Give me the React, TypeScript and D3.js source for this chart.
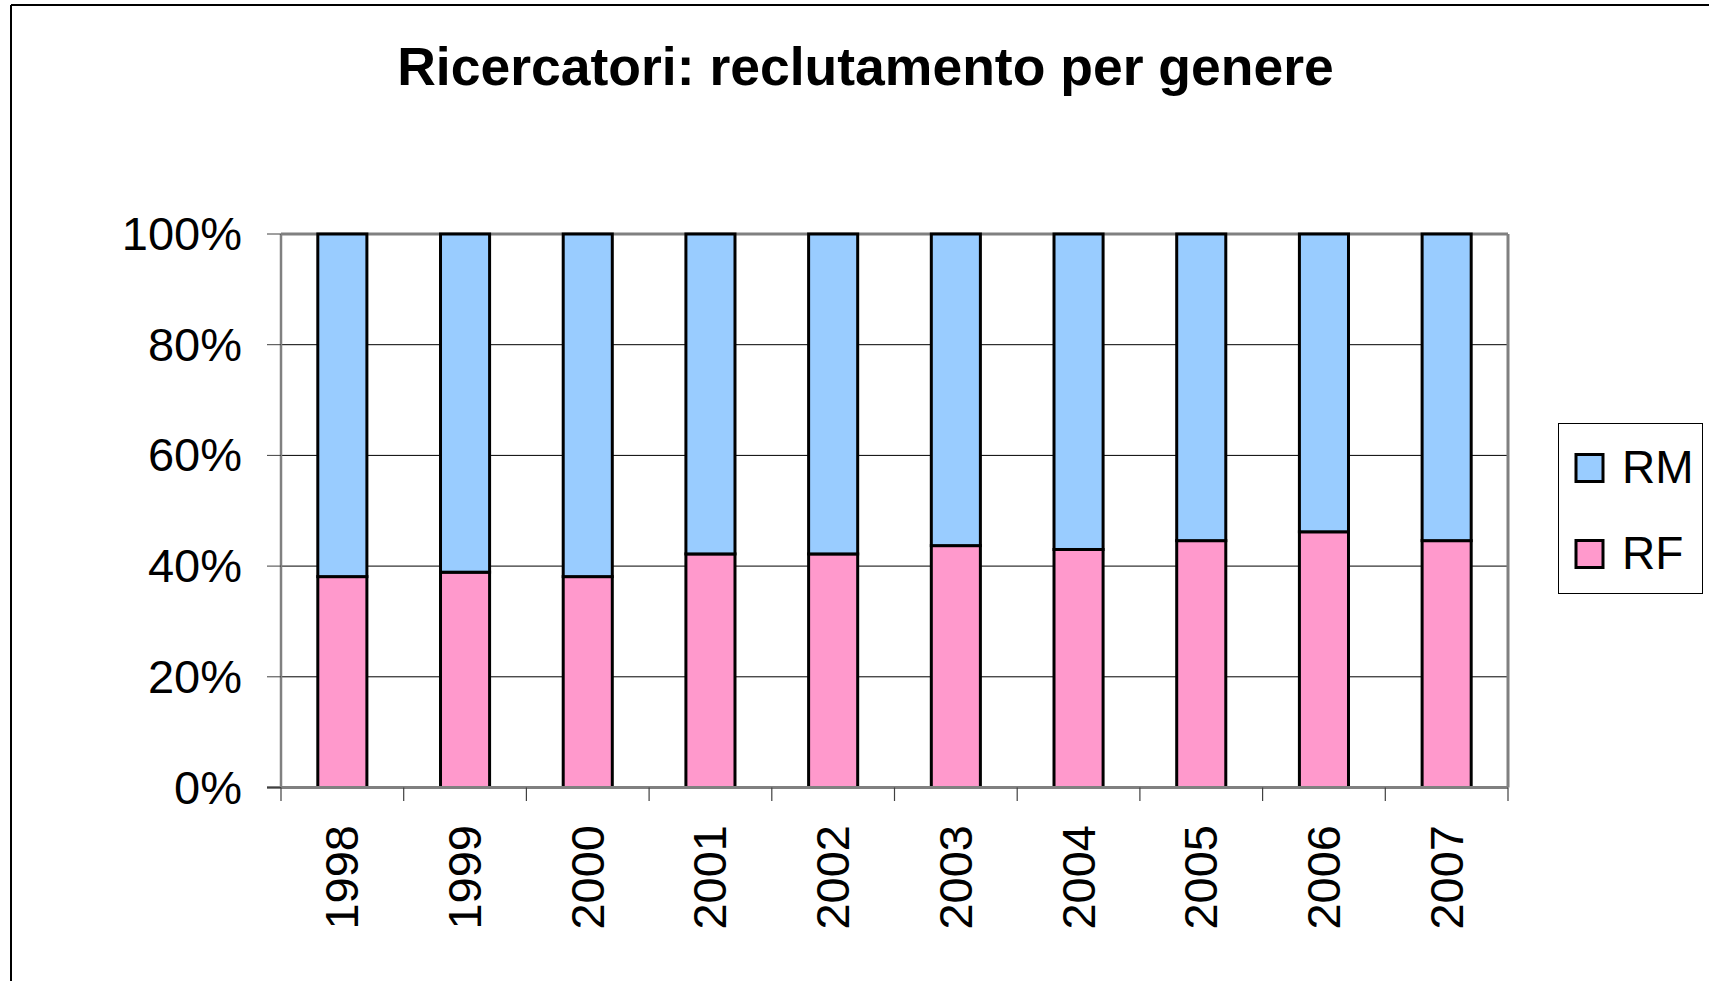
import React from "react";
import * as d3 from "d3";

const years = ["1998", "1999", "2000", "2001", "2002", "2003", "2004", "2005", "2006", "2007"];
const rfShare = [38.1, 38.9, 38.1, 42.2, 42.2, 43.7, 43.0, 44.6, 46.2, 44.6];
const rmShare = [61.9, 61.1, 61.9, 57.8, 57.8, 56.3, 57.0, 55.4, 53.8, 55.4];
const yTicks = [0, 20, 40, 60, 80, 100];
const seriesNames = ["RM", "RF"];
const seriesColors = ["#99CCFF", "#FF99CC"];

const W = 1709;
const H = 981;
const plot = { left: 281, right: 1508, top: 234, bottom: 787.5 };

export default function App() {
  const x = d3.scaleBand<string>().domain(years).range([plot.left, plot.right]).paddingInner(0).paddingOuter(0);
  const y = d3.scaleLinear().domain([0, 100]).range([plot.bottom, plot.top]);
  const bw = x.bandwidth() * 0.4;

  const rows = years.map((yr, i) => ({ year: yr, RF: rfShare[i], RM: rmShare[i] }));
  const stack = d3.stack<any>().keys(["RF", "RM"]);
  const layers = stack(rows);
  const colorOf: Record<string, string> = { RM: seriesColors[0], RF: seriesColors[1] };

  const font = "'Liberation Sans', Arial, sans-serif";

  return (
    <svg width={W} height={H} style={{ position: "absolute", left: 0, top: 0, display: "block", background: "#fff" }} fontFamily={font}>
      {/* outer frame */}
      <line x1={11} y1={5} x2={W} y2={5} stroke="#000" strokeWidth={2} />
      <line x1={11} y1={5} x2={11} y2={H} stroke="#000" strokeWidth={2} />

      <text x={865.5} y={85} textAnchor="middle" fontSize={53.5} fontWeight="bold" fill="#000">
        Ricercatori: reclutamento per genere
      </text>

      {/* gridlines */}
      {yTicks.filter((t) => t > 0 && t < 100).map((t) => (
        <line key={"g" + t} x1={plot.left} x2={plot.right} y1={y(t)} y2={y(t)} stroke="#000" strokeWidth={1} />
      ))}

      {/* plot frame top/right */}
      <line x1={plot.left} x2={plot.right} y1={plot.top} y2={plot.top} stroke="#808080" strokeWidth={3} />
      <line x1={plot.right} x2={plot.right} y1={plot.top} y2={plot.bottom} stroke="#808080" strokeWidth={3} />

      {/* bars */}
      {layers.map((layer) => (
        <g key={layer.key}>
          {layer.map((d, i) => {
            const cx = (x(years[i]) as number) + x.bandwidth() / 2;
            return (
              <rect
                key={i}
                x={cx - bw / 2}
                width={bw}
                y={y(d[1])}
                height={y(d[0]) - y(d[1])}
                fill={colorOf[layer.key]}
                stroke="#000"
                strokeWidth={3}
              />
            );
          })}
        </g>
      ))}

      {/* axes */}
      <line x1={plot.left} x2={plot.left} y1={plot.top} y2={plot.bottom} stroke="#808080" strokeWidth={2.5} />
      <line x1={267} x2={plot.right} y1={plot.bottom} y2={plot.bottom} stroke="#808080" strokeWidth={3} />
      {yTicks.map((t) => (
        <line key={"yt" + t} x1={267} x2={plot.left} y1={y(t)} y2={y(t)} stroke="#404040" strokeWidth={1} />
      ))}
      {[...years.map((yr) => x(yr) as number), plot.right].map((px, i) => (
        <line key={"xt" + i} x1={px} x2={px} y1={plot.bottom} y2={801} stroke="#404040" strokeWidth={1.2} />
      ))}

      {/* y labels */}
      {yTicks.map((t) => (
        <text key={"yl" + t} x={242} y={y(t) + 16} textAnchor="end" fontSize={47} fill="#000">
          {t + "%"}
        </text>
      ))}

      {/* x labels */}
      {years.map((yr) => {
        const cx = (x(yr) as number) + x.bandwidth() / 2;
        return (
          <text
            key={"xl" + yr}
            transform={`translate(${cx + 16},825) rotate(-90)`}
            textAnchor="end"
            fontSize={47}
            fill="#000"
          >
            {yr}
          </text>
        );
      })}

      {/* legend */}
      <rect x={1558.5} y={423.5} width={144} height={170} fill="#fff" stroke="#000" strokeWidth={1} />
      {seriesNames.map((name, i) => {
        const cy = 468 + i * 86;
        return (
          <g key={name}>
            <rect x={1576} y={cy - 13.5} width={27} height={27} fill={seriesColors[i]} stroke="#000" strokeWidth={3} />
            <text x={1622} y={cy + 15} fontSize={46} fill="#000">
              {name}
            </text>
          </g>
        );
      })}
    </svg>
  );
}
